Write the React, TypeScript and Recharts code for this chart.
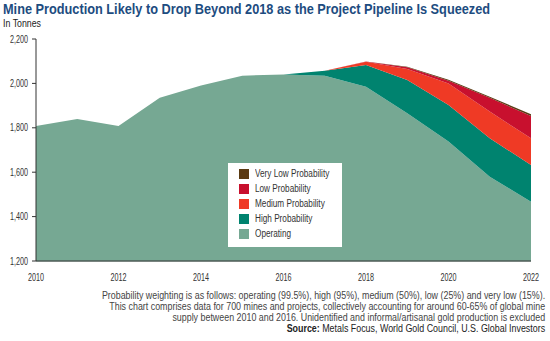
import { AreaChart, Area, XAxis, YAxis, Legend } from "recharts";

const years = [2010, 2011, 2012, 2013, 2014, 2015, 2016, 2017, 2018, 2019, 2020, 2021, 2022];
const operating = [1808, 1840, 1808, 1935, 1990, 2035, 2040, 2035, 1985, 1865, 1738, 1580, 1467];
const high = [0, 0, 0, 0, 0, 0, 0, 22, 98, 150, 165, 173, 165];
const medium = [0, 0, 0, 0, 0, 0, 0, 0, 14, 50, 97, 120, 121];
const low = [0, 0, 0, 0, 0, 0, 0, 0, 2, 8, 12, 62, 100];
const veryLow = [0, 0, 0, 0, 0, 0, 0, 0, 0, 2, 4, 5, 8];

const xTicks = [2010, 2012, 2014, 2016, 2018, 2020, 2022];
const yTicks = [1200, 1400, 1600, 1800, 2000, 2200];

const series = [
  { key: "operating", name: "Operating", color: "#76a893" },
  { key: "high", name: "High Probability", color: "#00836f" },
  { key: "medium", name: "Medium Probability", color: "#ef3a25" },
  { key: "low", name: "Low Probability", color: "#c8102e" },
  { key: "veryLow", name: "Very Low Probability", color: "#5b3a12" },
];

const data = years.map((year, i) => ({
  year,
  operating: operating[i],
  high: high[i],
  medium: medium[i],
  low: low[i],
  veryLow: veryLow[i],
}));

const font = '"Liberation Sans", Arial, sans-serif';

// the original uses a condensed face, so squeeze the text a little
function XTick(props: any) {
  const { x, y, payload } = props;
  return (
    <text x={x} y={y + 5} dy="0.71em" textAnchor="middle" fontSize={10} fill="#333" fontFamily={font} textLength={16} lengthAdjust="spacingAndGlyphs">
      {payload.value}
    </text>
  );
}

function YTick(props: any) {
  const { x, y, payload } = props;
  return (
    <text x={x} y={y} dy="0.355em" textAnchor="end" fontSize={10} fill="#333" fontFamily={font} textLength={18} lengthAdjust="spacingAndGlyphs">
      {payload.value.toLocaleString("en-US")}
    </text>
  );
}

function LegendBox() {
  const items = [...series].reverse();
  return (
    <div
      style={{
        background: "#fff",
        width: 114,
        height: 84,
        boxSizing: "border-box",
        padding: "3px 0 0 11px",
        fontFamily: font,
        fontSize: 10,
        color: "#333",
      }}
    >
      {items.map((s) => (
        <div key={s.key} style={{ display: "flex", alignItems: "center", height: 15, whiteSpace: "nowrap" }}>
          <span style={{ width: 10, height: 10, background: s.color, marginRight: 6, flex: "none" }} />
          <span style={{ display: "inline-block", transform: "scaleX(0.82)", transformOrigin: "left center" }}>{s.name}</span>
        </div>
      ))}
    </div>
  );
}

export default function App() {
  return (
    <div style={{ position: "absolute", left: 0, top: 0, width: 550, height: 341, background: "#fff", fontFamily: font }}>
      <div
        style={{
          position: "absolute",
          left: 3,
          top: 1,
          fontSize: 14,
          fontWeight: 700,
          color: "#1d4c80",
          whiteSpace: "nowrap",
          transform: "scaleX(0.91)",
          transformOrigin: "left top",
        }}
      >
        Mine Production Likely to Drop Beyond 2018 as the Project Pipeline Is Squeezed
      </div>
      <div style={{ position: "absolute", left: 3, top: 18, fontSize: 10, color: "#222", transform: "scaleX(0.88)", transformOrigin: "left top" }}>
        In Tonnes
      </div>
      <div style={{ position: "absolute", left: 0, top: 0 }}>
        <AreaChart width={550} height={290} data={data} margin={{ top: 39, right: 19, bottom: 9, left: 6 }}>
          <XAxis
            dataKey="year"
            type="number"
            domain={[2010, 2022]}
            ticks={xTicks}
            tickLine={false}
            axisLine={{ stroke: "#4d5a55", strokeWidth: 1.5 }}
            tick={XTick}
            height={20}
          />
          <YAxis
            domain={[1200, 2200]}
            allowDataOverflow
            ticks={yTicks}
            width={30}
            tickSize={4}
            tickMargin={4}
            tickLine={{ stroke: "#333" }}
            axisLine={{ stroke: "#333" }}
            tick={YTick}
          />
          {series.map((s) => (
            <Area
              key={s.key}
              type="linear"
              dataKey={s.key}
              name={s.name}
              stackId="1"
              stroke="none"
              fill={s.color}
              fillOpacity={1}
              isAnimationActive={false}
            />
          ))}
          <Legend
            layout="vertical"
            align="center"
            verticalAlign="middle"
            wrapperStyle={{ left: 228, top: 163, width: 114 }}
            content={() => <LegendBox />}
          />
        </AreaChart>
      </div>
      <div
        style={{
          position: "absolute",
          right: 5,
          top: 290,
          textAlign: "right",
          fontSize: 10,
          lineHeight: "11px",
          color: "#444",
          whiteSpace: "nowrap",
          transform: "scaleX(0.888)",
          transformOrigin: "right top",
        }}
      >
        <div>Probability weighting is as follows: operating (99.5%), high (95%), medium (50%), low (25%) and very low (15%).</div>
        <div>This chart comprises data for 700 mines and projects, collectively accounting for around 60-65% of global mine</div>
        <div>supply between 2010 and 2016. Unidentified and informal/artisanal gold production is excluded</div>
        <div style={{ color: "#222" }}>
          <b>Source:</b> Metals Focus, World Gold Council, U.S. Global Investors
        </div>
      </div>
    </div>
  );
}
